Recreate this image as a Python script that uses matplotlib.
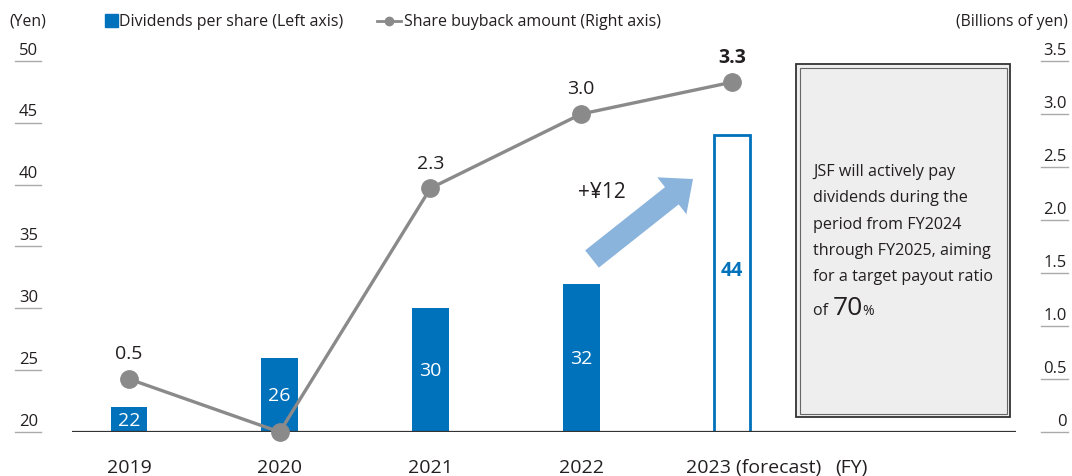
import matplotlib
matplotlib.use('Agg')
import matplotlib.pyplot as plt
import matplotlib.transforms as mtransforms
from matplotlib.patches import Rectangle, FancyArrow
from matplotlib.lines import Line2D

plt.rcParams['font.family'] = ['Open Sans', 'DejaVu Sans']

# data
years = ['2019', '2020', '2021', '2022', '2023 (forecast)']
dividends = [22, 26, 30, 32, 44]          # yen, left axis
buyback = [0.5, 0.0, 2.3, 3.0, 3.3]       # billions of yen, right axis
buyback_labels = ['0.5', '', '2.3', '3.0', '3.3']
left_ticks = [20, 25, 30, 35, 40, 45, 50]
right_ticks = [0, 0.5, 1.0, 1.5, 2.0, 2.5, 3.0, 3.5]
right_tick_labels = ['0', '0.5', '1.0', '1.5', '2.0', '2.5', '3.0', '3.5']
note_lines = ['JSF will actively pay', 'dividends during the',
              'period from FY2024', 'through FY2025, aiming',
              'for a target payout ratio']

BLUE = '#0071bb'
GREY = '#8a8a8a'
TXT = '#231f20'
W, H = 1072, 477

fig = plt.figure(figsize=(W / 100, H / 100), dpi=100)
# pixel coords of the image (y down) -> figure
px = mtransforms.Affine2D().scale(1 / W, -1 / H).translate(0, 1) + fig.transFigure

ax = fig.add_axes([72 / W, 1 - 433 / H, (1016 - 72) / W, (433 - 62) / H])
ax2 = ax.twinx()
ax.set_ylim(20, 50)
ax2.set_ylim(0, 3.5)
ax.set_xlim(-0.378, 5.884)
for a in (ax, ax2):
    for s in ('top', 'left', 'right', 'bottom'):
        a.spines[s].set_visible(False)
    a.set_xticks([])
    a.set_yticks([])
    a.patch.set_visible(False)
ax.set_zorder(1)
ax2.set_zorder(2)

xs = list(range(len(years)))

# bars
for i, v in enumerate(dividends):
    if i < len(dividends) - 1:
        ax.bar(i, v - 20, bottom=20, width=0.245, color=BLUE, zorder=2)
        ax.text(i, (v + 20) / 2, str(v), ha='center', va='center',
                color='white', fontsize=14, zorder=3)
    else:
        ax.bar(i, v - 20, bottom=20, width=0.245, facecolor='white',
               edgecolor=BLUE, linewidth=2, zorder=2)
        ax.annotate(str(v), (i, (v + 20) / 2), xytext=(0, 10),
                    textcoords='offset points', ha='center', va='center',
                    color=BLUE, fontsize=14, fontweight='bold', zorder=3)

# base line
ax.axhline(20, color='#333333', lw=1.6, zorder=4)

# buyback line
ax2.plot(xs, buyback, color=GREY, lw=2.4, marker='o', ms=12.5,
         markeredgecolor=GREY, clip_on=False, zorder=5)
for i, (v, lab) in enumerate(zip(buyback, buyback_labels)):
    if lab:
        ax2.annotate(lab, (i, v), xytext=(0, 18.5), textcoords='offset points',
                     ha='center', va='center', color=TXT, fontsize=14,
                     fontweight='bold' if i == len(buyback) - 1 else 'normal')

# year labels
for i, lab in enumerate(years):
    if i < len(years) - 1:
        ax.annotate(lab, (i, 20), xytext=(0, -25), textcoords='offset points',
                    ha='center', va='center', color=TXT, fontsize=14,
                    annotation_clip=False)
    else:
        ax.annotate(lab, (i, 20), xytext=(-33, -25), textcoords='offset points',
                    ha='left', va='center', color=TXT, fontsize=14,
                    annotation_clip=False)
        ax.annotate('(FY)', (i, 20), xytext=(74, -25), textcoords='offset points',
                    ha='left', va='center', color=TXT, fontsize=14,
                    annotation_clip=False)

# axis tick labels with underlines
tl = mtransforms.blended_transform_factory(fig.transFigure, ax.transData)
for v in left_ticks:
    ax.annotate(str(v), (38 / W, v), xycoords=tl, xytext=(0, 2.5),
                textcoords='offset points', ha='right', va='bottom',
                color=TXT, fontsize=12, annotation_clip=False)
    ax.add_line(Line2D([15 / W, 41 / W], [v, v], transform=tl, color='#aaaaaa',
                       lw=1, clip_on=False))
tr = mtransforms.blended_transform_factory(fig.transFigure, ax2.transData)
for v, lab in zip(right_ticks, right_tick_labels):
    ax2.annotate(lab, (1067 / W, v), xycoords=tr, xytext=(0, 2.5),
                 textcoords='offset points', ha='right', va='bottom',
                 color=TXT, fontsize=12, annotation_clip=False)
    ax2.add_line(Line2D([1041 / W, 1068 / W], [v, v], transform=tr,
                        color='#aaaaaa', lw=1, clip_on=False))

# axis titles
fig.text(9 / W, 1 - 22 / H, '(Yen)', ha='left', va='center', color=TXT, fontsize=11.3)
fig.text(1068 / W, 1 - 22 / H, '(Billions of yen)', ha='right', va='center',
         color=TXT, fontsize=11.3)

# legend
fig.patches.append(Rectangle((105, 15), 13, 13, transform=px, color=BLUE))
fig.text(119 / W, 1 - 22 / H, 'Dividends per share (Left axis)', ha='left',
         va='center', color=TXT, fontsize=11.5)
fig.lines.append(Line2D([377, 384], [22, 22], transform=px, color=GREY, lw=2))
fig.lines.append(Line2D([394, 401], [22, 22], transform=px, color=GREY, lw=2))
fig.lines.append(Line2D([389], [22], transform=px, marker='o', ms=6, color=GREY, lw=0))
fig.text(404 / W, 1 - 22 / H, 'Share buyback amount (Right axis)', ha='left',
         va='center', color=TXT, fontsize=11.5)

# arrow and increment
fig.patches.append(FancyArrow(592, 260, 101, -80, width=22, head_width=47,
                              head_length=27, length_includes_head=True,
                              transform=px, color='#8ab4dc', lw=0))
fig.text(602 / W, 1 - 192 / H, '+¥12', ha='center', va='center', color=TXT,
         fontsize=15)

# note box
fig.patches.append(Rectangle((796, 65), 214, 353, transform=px,
                             facecolor='#eeeeee', edgecolor='#333333', lw=1.3))
fig.patches.append(Rectangle((799.5, 68.5), 207, 346, transform=px,
                             facecolor='none', edgecolor='#666666', lw=0.8))
for k, line in enumerate(note_lines):
    fig.text(813 / W, 1 - (172 + 26.3 * k) / H, line, ha='left', va='center',
             color=TXT, fontsize=11.6)
r = fig.canvas.get_renderer()
yb = 1 - 315 / H
t1 = fig.text(813 / W, yb, 'of ', ha='left', va='baseline', color=TXT, fontsize=11.6)
x1 = t1.get_window_extent(r).x1 / fig.bbox.width
t2 = fig.text(x1, yb, '70', ha='left', va='baseline', color=TXT, fontsize=19)
x2 = t2.get_window_extent(r).x1 / fig.bbox.width
fig.text(x2, yb, '%', ha='left', va='baseline', color=TXT, fontsize=10)

fig.savefig('out.png', dpi=100)
